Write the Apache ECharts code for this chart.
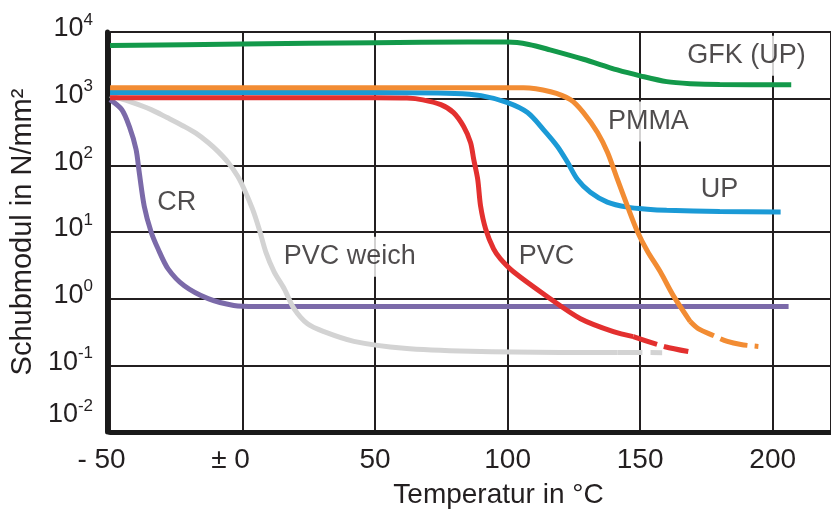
<!DOCTYPE html>
<html>
<head>
<meta charset="utf-8">
<script src="https://cdn.jsdelivr.net/npm/echarts@6/dist/echarts.min.js"></script>
<style>
  html, body { margin: 0; padding: 0; background: #fff; }
  #chart { width: 831px; height: 514px; }
</style>
</head>
<body>
<div id="chart"></div>
<script>
// [Temperatur °C, Schubmodul N/mm²]
const gfkUp = [[-50, 6250], [0, 6600], [50, 6900], [85, 7050], [100, 7050], [108, 6500], [116, 5400],
  [128.6, 3900], [141.4, 2700], [150, 2200], [160, 1800], [169, 1680], [180, 1630], [207, 1620]];

const pmma = [[-50, 1460], [50, 1460], [106, 1460], [116.2, 1270], [123.7, 966], [128.6, 618], [133.9, 311],
  [137.7, 156], [141.4, 62], [145.2, 24.4], [148.9, 10.3], [152.7, 5.2], [157.6, 2.53], [162.5, 1.11],
  [168.9, 0.454]];
const pmmaDashed = [[168.9, 0.454], [171.9, 0.356], [177.6, 0.28], [182.9, 0.228], [188, 0.205], [194.6, 0.192]];

const up = [[-50, 1240], [0, 1240], [50, 1240], [80, 1200], [90, 1110], [100, 871], [107.5, 618],
  [113.5, 344], [118.8, 192], [122.6, 111], [126.3, 62], [131.2, 39.5], [137.6, 28.1], [145.2, 23.6],
  [152.7, 22], [160, 21.2], [180, 20.3], [203, 20]];

const pvc = [[-50, 1035], [0, 1035], [50, 1035], [62, 1020], [68, 960], [74.8, 813], [79.6, 618],
  [83.4, 382], [86, 220], [87.2, 123], [88.7, 62], [89.8, 24.4], [91.7, 11.1], [94.7, 5.57], [97.3, 3.95],
  [102.2, 2.53], [115, 1.07], [127.5, 0.5], [139.9, 0.32], [147.4, 0.27]];
const pvcDashed = [[147.4, 0.27], [159.4, 0.19], [170, 0.156]];

const pvcWeich = [[-50, 1110], [-42.5, 902], [-34.5, 686], [-28.5, 520], [-22, 382], [-17.5, 301], [-13, 220],
  [-9.3, 162], [-5.5, 111], [-1.9, 69], [0.6, 43.9], [3.77, 22], [6.25, 11.1], [8.78, 5.0], [11.9, 2.53],
  [15.7, 1.41], [19.4, 0.71], [24.5, 0.42], [30.7, 0.32], [42, 0.229], [60.9, 0.18], [86, 0.162],
  [120, 0.156], [141.4, 0.156]];
const pvcWeichDashed = [[141.4, 0.156], [158.3, 0.155]];

const cr = [[-50, 966], [-45.6, 686], [-42.7, 380], [-40.2, 174], [-39, 79], [-37.1, 24.4], [-34.5, 10],
  [-31.9, 5.6], [-28.1, 2.8], [-22, 1.56], [-13, 1.0], [-3.3, 0.79], [5, 0.76], [206, 0.76]];

// Beschriftungen im Diagramm
const labelNames = ['CR', 'PVC weich', 'PVC', 'PMMA', 'UP', 'GFK (UP)'];
const labelPos = [[-24.8, 28.1], [40.4, 4.24], [114.7, 4.24], [153.1, 454], [179.9, 43.9], [190.1, 4390]];

const xTicks = [-50, 0, 50, 100, 150, 200];
const xTickText = ['- 50', '± 0', '50', '100', '150', '200'];

const FONT = '"Liberation Sans", Arial, sans-serif';
const INK = '#231f20';

const curve = (data, color, dash) => ({
  type: 'line',
  data: data,
  smooth: 0.3,
  symbol: 'none',
  silent: true,
  z: 3,
  lineStyle: { color: color, width: 5, type: dash || 'solid', cap: 'butt' }
});

const chart = echarts.init(document.getElementById('chart'));

chart.setOption({
  animation: false,
  textStyle: { fontFamily: FONT, color: INK },
  grid: { left: 109, right: 0, top: 32, bottom: 80 },
  xAxis: {
    type: 'value',
    min: -50,
    max: 222,
    interval: 50,
    axisLine: { onZero: false, lineStyle: { color: '#1a1a1a', width: 5 } },
    axisTick: { show: false },
    splitLine: { lineStyle: { color: INK, width: 2 } },
    axisLabel: {
      fontSize: 28,
      color: INK,
      margin: 14,
      showMaxLabel: false,
      formatter: (v) => {
        const i = xTicks.indexOf(v);
        if (i < 0) return '';
        if (v === -50) return '{m|' + xTickText[i] + '}';
        if (v === 0) return '{z|' + xTickText[i] + '}';
        return xTickText[i];
      },
      rich: {
        m: { fontSize: 28, color: INK, padding: [0, 17, 0, 0] },
        z: { fontSize: 28, color: INK, padding: [0, 24, 0, 0] }
      }
    },
    name: 'Temperatur in °C',
    nameLocation: 'middle',
    nameGap: 49,
    nameTextStyle: { fontSize: 28, color: INK, padding: [0, 0, 0, 56] }
  },
  yAxis: {
    type: 'log',
    logBase: 10,
    min: 0.01,
    max: 10000,
    splitNumber: 6,
    offset: 3,
    axisLine: { show: true, onZero: false, lineStyle: { color: '#1a1a1a', width: 5 } },
    axisTick: { show: false },
    splitLine: { show: true, lineStyle: { color: INK, width: 2 } },
    axisLabel: {
      margin: 14,
      color: INK,
      formatter: (v) => {
        const e = Math.round(Math.log10(v));
        return e === -2 ? '{b2|10}{e|' + e + '}' : '{b|10}{e|' + e + '}';
      },
      rich: {
        b: { fontSize: 27, color: INK, padding: [4, 0, 10, 0] },
        b2: { fontSize: 27, color: INK, padding: [4, 0, 38, 0] },
        e: { fontSize: 17, color: INK, verticalAlign: 'top' }
      }
    },
    name: 'Schubmodul in N/mm²',
    nameLocation: 'middle',
    nameGap: 68,
    nameTextStyle: { fontSize: 29, color: INK }
  },
  series: [
    {
      type: 'scatter',
      z: 1,
      silent: true,
      symbolSize: 1,
      itemStyle: { color: 'rgba(0,0,0,0)' },
      data: labelNames.map((n, i) => ({ name: n, value: labelPos[i] })),
      label: {
        show: true,
        position: 'inside',
        formatter: '{b}',
        fontSize: 27,
        color: INK,
        backgroundColor: '#fff',
        padding: [10, 5, 3, 5]
      }
    },
    curve(cr, '#7b6aa9'),
    curve(pvcWeich, '#d3d3d3'),
    curve(pvcWeichDashed, '#d3d3d3', [25, 8]),
    curve(pvc, '#e3302f'),
    curve(pvcDashed, '#e3302f', [25, 7]),
    curve(up, '#1b9ad6'),
    curve(pmma, '#f28c33'),
    curve(pmmaDashed, '#f28c33', [28, 7]),
    curve(gfkUp, '#13994a')
  ]
});

window.addEventListener('resize', () => chart.resize());
</script>
</body>
</html>
